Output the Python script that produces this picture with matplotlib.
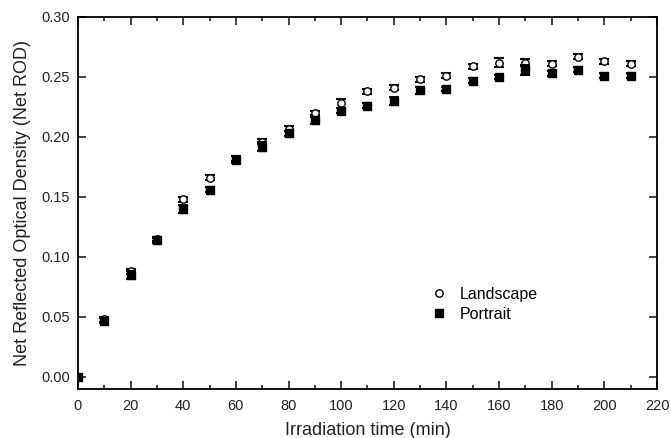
import matplotlib
matplotlib.use("Agg")
import matplotlib.pyplot as plt
from matplotlib.ticker import MultipleLocator

plt.rcParams['font.family'] = ['Liberation Sans', 'DejaVu Sans']

# irradiation time (min)
times = [0, 10, 20, 30, 40, 50, 60, 70, 80, 90, 100,
         110, 120, 130, 140, 150, 160, 170, 180, 190, 200, 210]

# net ROD, landscape orientation
landscape = [0.000, 0.048, 0.088, 0.115, 0.148, 0.166, 0.182, 0.196, 0.207, 0.220, 0.228,
             0.238, 0.241, 0.248, 0.251, 0.259, 0.262, 0.262, 0.261, 0.267, 0.263, 0.261]
landscape_err = [0.001, 0.002, 0.002, 0.002, 0.002, 0.002, 0.002, 0.002, 0.002, 0.002, 0.004,
                 0.002, 0.002, 0.002, 0.002, 0.002, 0.004, 0.003, 0.002, 0.002, 0.002, 0.002]

# net ROD, portrait orientation
portrait = [0.000, 0.047, 0.085, 0.114, 0.140, 0.156, 0.181, 0.192, 0.203, 0.214, 0.222,
            0.226, 0.230, 0.239, 0.240, 0.247, 0.250, 0.256, 0.253, 0.256, 0.251, 0.251]
portrait_err = [0.001, 0.002, 0.003, 0.002, 0.003, 0.002, 0.003, 0.004, 0.002, 0.003, 0.002,
                0.002, 0.003, 0.003, 0.002, 0.002, 0.002, 0.004, 0.002, 0.002, 0.002, 0.002]

fig = plt.figure(figsize=(6.7, 4.38), dpi=100)
ax = fig.add_axes([0.1164, 0.1119, 0.8642, 0.8493])

ax.errorbar(times, landscape, yerr=landscape_err, fmt='none', ecolor='black',
            elinewidth=1.2, capsize=3.8, capthick=1.5)
ax.plot(times, landscape, 'o', ms=5.3, mfc='white', mec='black', mew=1.0, label='Landscape')

ax.errorbar(times, portrait, yerr=portrait_err, fmt='none', ecolor='black',
            elinewidth=1.2, capsize=3.8, capthick=1.5)
ax.plot(times, portrait, 's', ms=5.3, mfc='black', mec='black', label='Portrait')

ax.set_xlim(0, 220)
ax.set_ylim(-0.01, 0.30)
ax.xaxis.set_major_locator(MultipleLocator(20))
ax.xaxis.set_minor_locator(MultipleLocator(10))
ax.yaxis.set_major_locator(MultipleLocator(0.05))
ax.yaxis.set_major_formatter(matplotlib.ticker.FormatStrFormatter('%.2f'))

ax.tick_params(which='both', direction='in', top=True, right=True,
               labelsize=10.5, width=1.2, colors='#222222')
ax.tick_params(which='major', length=6, pad=7)
ax.tick_params(which='minor', length=3)
ax.tick_params(axis='y', which='major', pad=6)
for s in ax.spines.values():
    s.set_linewidth(1.3)

ax.set_xlabel('Irradiation time (min)', fontsize=13, labelpad=7, color='#222222')
ax.set_ylabel('Net Reflected Optical Density (Net ROD)', fontsize=13, labelpad=7, color='#222222')

ax.legend(loc='center left', bbox_to_anchor=(0.59, 0.228), frameon=False,
          fontsize=11.5, handlelength=1.0, handletextpad=0.8, labelspacing=0.3,
          borderpad=0.2)

fig.savefig('out.png', dpi=100, facecolor='white')
